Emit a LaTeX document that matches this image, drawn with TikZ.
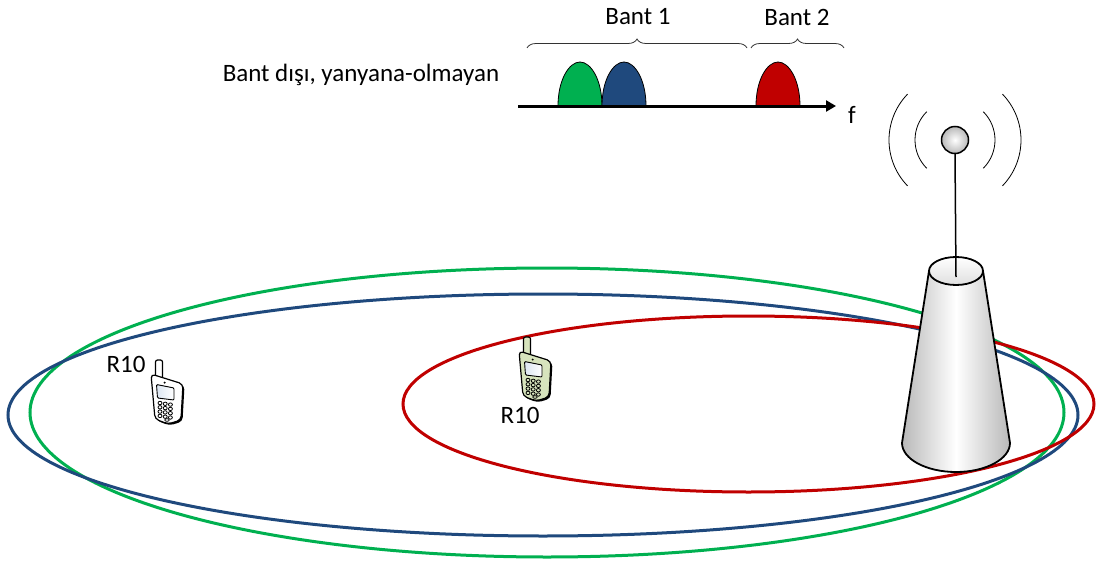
\documentclass[tikz,border=0pt]{standalone}
\usepackage{fontspec}
\setmainfont{Carlito}
\usetikzlibrary{decorations.pathreplacing,arrows.meta}
\definecolor{cgreen}{HTML}{00B050}
\definecolor{cblue}{HTML}{1F497D}
\definecolor{cred}{HTML}{C00000}
\definecolor{phgreen}{HTML}{D7E4BD}
\definecolor{scr}{HTML}{DCE6F2}
\tikzset{
  ring/.style={line width=3pt},
  lbl/.style={font=\fontsize{25}{30}\selectfont, inner sep=0pt},
  hump/.style={draw=black, line width=0.8pt},
  brc/.style={decorate, decoration={brace, amplitude=9pt}, line width=0.8pt, draw=black!80},
  wave/.style={line width=0.8pt},
  pics/phone/.style={code={
    % antenna stub
    \draw[line width=1.2pt, fill=#1, rounded corners=2pt] (-3.5,2) -- (-3.5,-15) -- (3.5,-15) -- (3.5,2);
    % dark rim
    \fill[black, rounded corners=4pt] (-6.5,0.5) -- (25.5,10.5) -- (23.5,46.5) -- (10.5,50.5) -- (-2.5,45.5) -- cycle;
    % body
    \draw[line width=1.2pt, fill=#1, rounded corners=4pt] (-8,-1) -- (24,9) -- (22,45) -- (9,49) -- (-4,44) -- cycle;
    % screen
    \draw[line width=0.9pt, left color=scr, right color=white, rounded corners=1pt] (-2.5,9.5) -- (15,13) -- (15,25) -- (-1.5,23) -- cycle;
    \fill (5.7,7.6) circle (1.1);
    % keypad
    \foreach \c in {0,1,2}{
      \foreach \r in {0,1,2,3}{
        \draw[line width=0.8pt, fill=#1] (1+5.2*\c, 28+4.3*\r+0.8*\c) circle [x radius=2, y radius=1.7];
      }
    }
    \draw[line width=0.8pt, fill=#1] (8,45) circle [x radius=2.2, y radius=1.3];
  }}
}
\begin{document}
\begin{tikzpicture}[x=1pt,y=-1pt]
\useasboundingbox (0,0) rectangle (1096,562);

% coverage rings
\draw[ring, cgreen] (547,412.5) ellipse [x radius=517, y radius=144.5];
\draw[ring, cblue] (543,415) ellipse [x radius=535, y radius=121];
\draw[ring, cred] (748.5,404) ellipse [x radius=345.5, y radius=88];

% spectrum
\node[lbl] (lblout) at (361,75) {Bant dışı, yanyana-olmayan};
\coordinate (axL) at (518,106);
\coordinate (axR) at (836,106);
\draw[hump, fill=cgreen] (558,106) .. controls (558,80) and (569,62) .. (580,62) .. controls (591,62) and (602,80) .. (602,106) -- cycle;
\draw[hump, fill=cblue] (602,106) .. controls (602,80) and (613,62) .. (624,62) .. controls (635,62) and (646,80) .. (646,106) -- cycle;
\draw[hump, fill=cred] (756,106) .. controls (756,80) and (767,62) .. (778,62) .. controls (789,62) and (800,80) .. (800,106) -- cycle;
\draw[line width=3pt, -{Triangle[length=10pt,width=11pt]}] (axL) -- (axR);
\node[lbl] (lblf) at (852,115) {f};
\coordinate (b1L) at (527,48);
\coordinate (b1R) at (747,48);
\coordinate (b2L) at (751,48);
\coordinate (b2R) at (844,48);
\draw[brc] (b1L) -- (b1R);
\draw[brc] (b2L) -- (b2R);
\node[lbl] (lblb1) at (638,17) {Bant 1};
\node[lbl] (lblb2) at (797,17) {Bant 2};

% base station
\coordinate (ball) at (955,140);
\draw[wave] (ball) ++(135:40) arc [start angle=135, end angle=225, radius=40];
\draw[wave] (ball) ++(45:40) arc [start angle=45, end angle=-45, radius=40];
\draw[wave] (ball) ++(136:66) arc [start angle=136, end angle=224, radius=66];
\draw[wave] (ball) ++(44:66) arc [start angle=44, end angle=-44, radius=66];
\shade[left color=gray!55, right color=gray!55, middle color=white]
  (929,271) -- (902,443) .. controls (902,459) and (926.2,472) .. (956,472)
  .. controls (985.8,472) and (1010,459) .. (1010,443) -- (983,271) -- cycle;
\draw[line width=1.8pt, line join=round]
  (929,271) -- (902,443) .. controls (902,459) and (926.2,472) .. (956,472)
  .. controls (985.8,472) and (1010,459) .. (1010,443) -- (983,271);
\draw[line width=1.8pt, top color=white, bottom color=gray!25] (956,271) ellipse [x radius=27, y radius=14];
\draw[line width=1.5pt] (956,277) -- (955,153);
\shade[inner color=white, outer color=gray!55] (ball) circle (13.5);
\draw[line width=1.5pt] (ball) circle (13.5);

% handsets
\pic (ph1) at (159,375) {phone=white};
\pic (ph2) at (527,352) {phone=phgreen};
\node[lbl] (r1) at (126,364) {R10};
\node[lbl] (r2) at (520,415) {R10};
\end{tikzpicture}
\end{document}
